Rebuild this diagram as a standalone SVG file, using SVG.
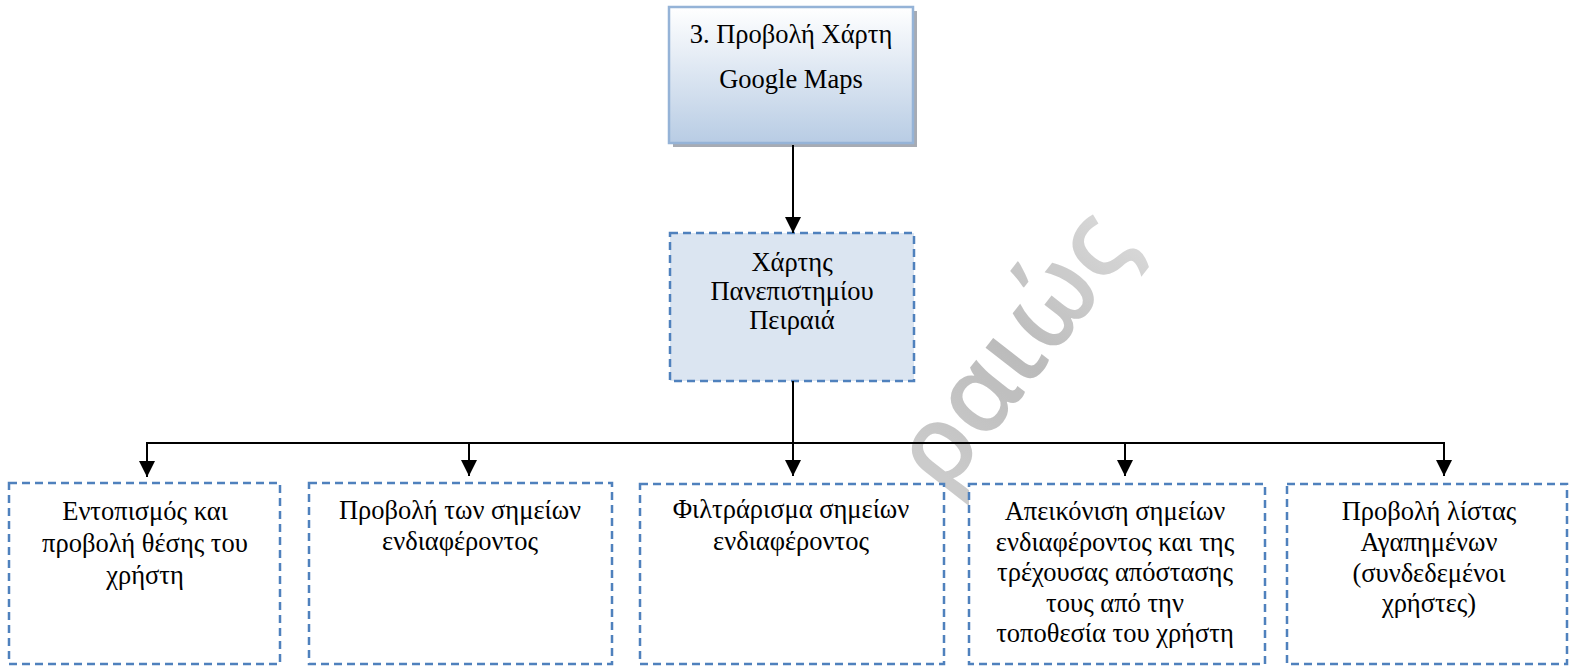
<svg xmlns="http://www.w3.org/2000/svg" width="1571" height="667" viewBox="0 0 1571 667">
<defs>
<linearGradient id="topGrad" x1="0" y1="0" x2="0" y2="1">
<stop offset="0" stop-color="#ffffff"/>
<stop offset="1" stop-color="#b8cce4"/>
</linearGradient>
<linearGradient id="wmGrad" x1="0" y1="0" x2="1" y2="0">
<stop offset="0" stop-color="#c4c4c4"/>
<stop offset="0.5" stop-color="#b0b0b0"/>
<stop offset="1" stop-color="#d0d0d0"/>
</linearGradient>
<marker id="arr" viewBox="0 0 16 16" refX="16" refY="8" markerWidth="16" markerHeight="16" markerUnits="userSpaceOnUse" orient="auto">
<path d="M0,0 L16,8 L0,16 Z" fill="#000"/>
</marker>
</defs>
<style>
.t { font-family: "Liberation Serif", "Times New Roman", serif; font-size: 26.5px; fill: #000; text-anchor: middle; }
.dash { fill: #ffffff; stroke: #4f81bd; stroke-width: 2.5; stroke-dasharray: 8 5; }
.dashfill { fill: #dbe5f1; stroke: #4f81bd; stroke-width: 2.5; stroke-dasharray: 8 5; }
.conn { fill: none; stroke: #000; stroke-width: 2; }
.wm { font-family: "Open Sans", "Noto Sans", sans-serif; font-size: 108px; font-weight: 600; fill: url(#wmGrad); opacity: 0.85; }
</style>
<rect x="0" y="0" width="1571" height="667" fill="#ffffff"/>

<text class="wm" transform="translate(944,496) rotate(-52)">ραιώς</text>

<g id="n-top">
<rect x="673" y="11" width="244" height="136" fill="#8a8f99" opacity="0.75"/>
<rect x="669" y="7" width="244" height="136" fill="url(#topGrad)" stroke="#95b3d7" stroke-width="2.5"/>
<text class="t" x="791" y="43" font-size="28">3. Προβολή Χάρτη</text>
<text class="t" x="791" y="88" font-size="28">Google Maps</text>
</g>

<g id="n-map">
<rect class="dashfill" x="670" y="233" width="244" height="148"/>
<text class="t" x="792" y="271">Χάρτης</text>
<text class="t" x="792" y="300">Πανεπιστημίου</text>
<text class="t" x="792" y="329">Πειραιά</text>
</g>

<g id="n-locate">
<rect class="dash" x="9" y="483" width="271" height="181"/>
<text class="t" x="145" y="520">Εντοπισμός και</text>
<text class="t" x="145" y="552">προβολή θέσης του</text>
<text class="t" x="145" y="584">χρήστη</text>
</g>

<g id="n-poi">
<rect class="dash" x="309" y="483" width="303" height="181"/>
<text class="t" x="460" y="519">Προβολή των σημείων</text>
<text class="t" x="460" y="550">ενδιαφέροντος</text>
</g>

<g id="n-filter">
<rect class="dash" x="640" y="484" width="304" height="180"/>
<text class="t" x="791" y="518">Φιλτράρισμα σημείων</text>
<text class="t" x="791" y="550">ενδιαφέροντος</text>
</g>

<g id="n-distance">
<rect class="dash" x="969" y="484" width="296" height="180"/>
<text class="t" x="1115" y="520">Απεικόνιση σημείων</text>
<text class="t" x="1115" y="551">ενδιαφέροντος και της</text>
<text class="t" x="1115" y="581">τρέχουσας απόστασης</text>
<text class="t" x="1115" y="612">τους από την</text>
<text class="t" x="1115" y="642">τοποθεσία του χρήστη</text>
</g>

<g id="n-favorites">
<rect class="dash" x="1287" y="484" width="280" height="180"/>
<text class="t" x="1429" y="520">Προβολή λίστας</text>
<text class="t" x="1429" y="551">Αγαπημένων</text>
<text class="t" x="1429" y="582">(συνδεδεμένοι</text>
<text class="t" x="1429" y="612">χρήστες)</text>
</g>

<g id="connectors">
<line class="conn" x1="793" y1="145" x2="793" y2="233" marker-end="url(#arr)"/>
<line class="conn" x1="793" y1="381" x2="793" y2="443"/>
<line class="conn" x1="147" y1="443" x2="1444" y2="443"/>
<line class="conn" x1="147" y1="442" x2="147" y2="477" marker-end="url(#arr)"/>
<line class="conn" x1="469" y1="442" x2="469" y2="476" marker-end="url(#arr)"/>
<line class="conn" x1="793" y1="442" x2="793" y2="476" marker-end="url(#arr)"/>
<line class="conn" x1="1125" y1="442" x2="1125" y2="476" marker-end="url(#arr)"/>
<line class="conn" x1="1444" y1="442" x2="1444" y2="476" marker-end="url(#arr)"/>
</g>
</svg>
